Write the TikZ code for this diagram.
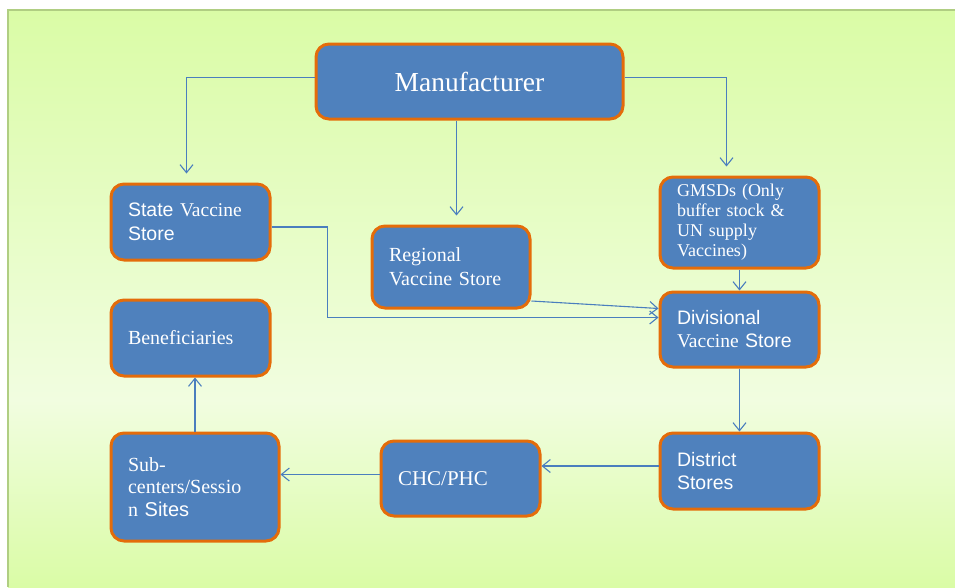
\documentclass[tikz,border=0pt]{standalone}
\usepackage{fontspec}
\setmainfont{Liberation Serif}
\setsansfont{Liberation Sans}
\usetikzlibrary{arrows.meta}

\definecolor{bleuboite}{RGB}{79,129,189}
\definecolor{orangebord}{RGB}{228,108,10}
\definecolor{bleufleche}{RGB}{74,126,190}
\definecolor{vertclair}{RGB}{218,252,166}
\definecolor{vertpale}{RGB}{241,253,224}
\definecolor{vertbord}{RGB}{176,206,130}

\newcommand{\sansmot}[1]{{\sffamily #1}}

\tikzset{
  boite/.style={draw=orangebord, fill=bleuboite, line width=3pt, rounded corners=13pt,
    text=white, align=left, inner xsep=17pt, inner ysep=0pt},
  fleche/.style={draw=bleufleche, line width=1.1pt, -{Straight Barb[length=8pt,width=13pt]}}
}

\begin{document}
\begin{tikzpicture}[x=1pt, y=-1pt]
\useasboundingbox (0,0) rectangle (955,587);
% Le fond vert, plus clair vers le bas
\shade[top color=vertclair, bottom color=vertpale] (8,10) rectangle (955,400);
\shade[top color=vertpale, bottom color=vertclair] (8,400) rectangle (955,587);
\draw[vertbord, line width=1.5pt] (8,587) -- (8,10) -- (955,10);

% Les boites
\node[boite, text width=273pt, minimum height=75pt, align=center, font=\fontsize{27.5}{32}\selectfont] (man) at (469.5,81.5) {Manufacturer};
\node[boite, text width=125pt, minimum height=76pt, font=\fontsize{19.5}{23.5}\selectfont] (state) at (190.5,222) {\sansmot{State} Vaccine\\\sansmot{Store}};
\node[boite, text width=124pt, minimum height=82pt, font=\fontsize{20}{24}\selectfont] (regional) at (451,267) {Regional\\Vaccine Store};
\node[boite, text width=125pt, minimum height=91pt, font=\fontsize{18}{20}\selectfont] (gmsd) at (739.5,222.5) {GMSDs (Only\\buffer stock \&\\UN supply\\Vaccines)};
\node[boite, text width=125pt, minimum height=75pt, font=\fontsize{19.5}{23}\selectfont] (div) at (739.5,329.5) {\sansmot{Divisional}\\Vaccine \sansmot{Store}};
\node[boite, text width=125pt, minimum height=76pt, font=\fontsize{20}{24}\selectfont] (benef) at (190.5,338) {Beneficiaries};
\node[boite, text width=125pt, minimum height=76pt, font=\sffamily\fontsize{19.5}{23}\selectfont] (district) at (739.5,471) {District\\Stores};
\node[boite, text width=125pt, minimum height=75pt, font=\fontsize{21}{24}\selectfont] (chc) at (460.5,478.5) {CHC/PHC};
\node[boite, text width=134pt, minimum height=108pt, font=\fontsize{20}{22.5}\selectfont] (sub) at (195,487) {Sub-\\centers/Sessio\\n \sansmot{Sites}};

% Les fleches depuis le fabricant
\draw[fleche, shorten >=9pt] ([yshift=4pt]man.west) -| ([xshift=-4pt]state.north);
\draw[fleche, shorten >=9pt] ([xshift=-13pt]man.south) -- ([xshift=-13pt]man.south |- regional.north);
\draw[fleche, shorten >=9pt] ([yshift=4pt]man.east) -| ([xshift=-13pt]gmsd.north);

% Vers le magasin divisionnaire
\draw[fleche] ([yshift=-5pt]state.east) -- ++(56,0) |- ([yshift=12pt]div.west);
\draw[fleche] ([yshift=-34pt]regional.east) -- ([yshift=21pt]div.west);
\draw[fleche] (gmsd.south) -- (div.north);
\draw[fleche] (div.south) -- (district.north);

% Puis jusqu'aux beneficiaires
\draw[fleche] ([yshift=5pt]district.west) -- ([yshift=5pt]district.west -| chc.east);
\draw[fleche] ([yshift=4pt]chc.west) -- ([yshift=4pt]chc.west -| sub.east);
\draw[fleche] (sub.north) -- (sub.north |- benef.south);
\end{tikzpicture}
\end{document}
